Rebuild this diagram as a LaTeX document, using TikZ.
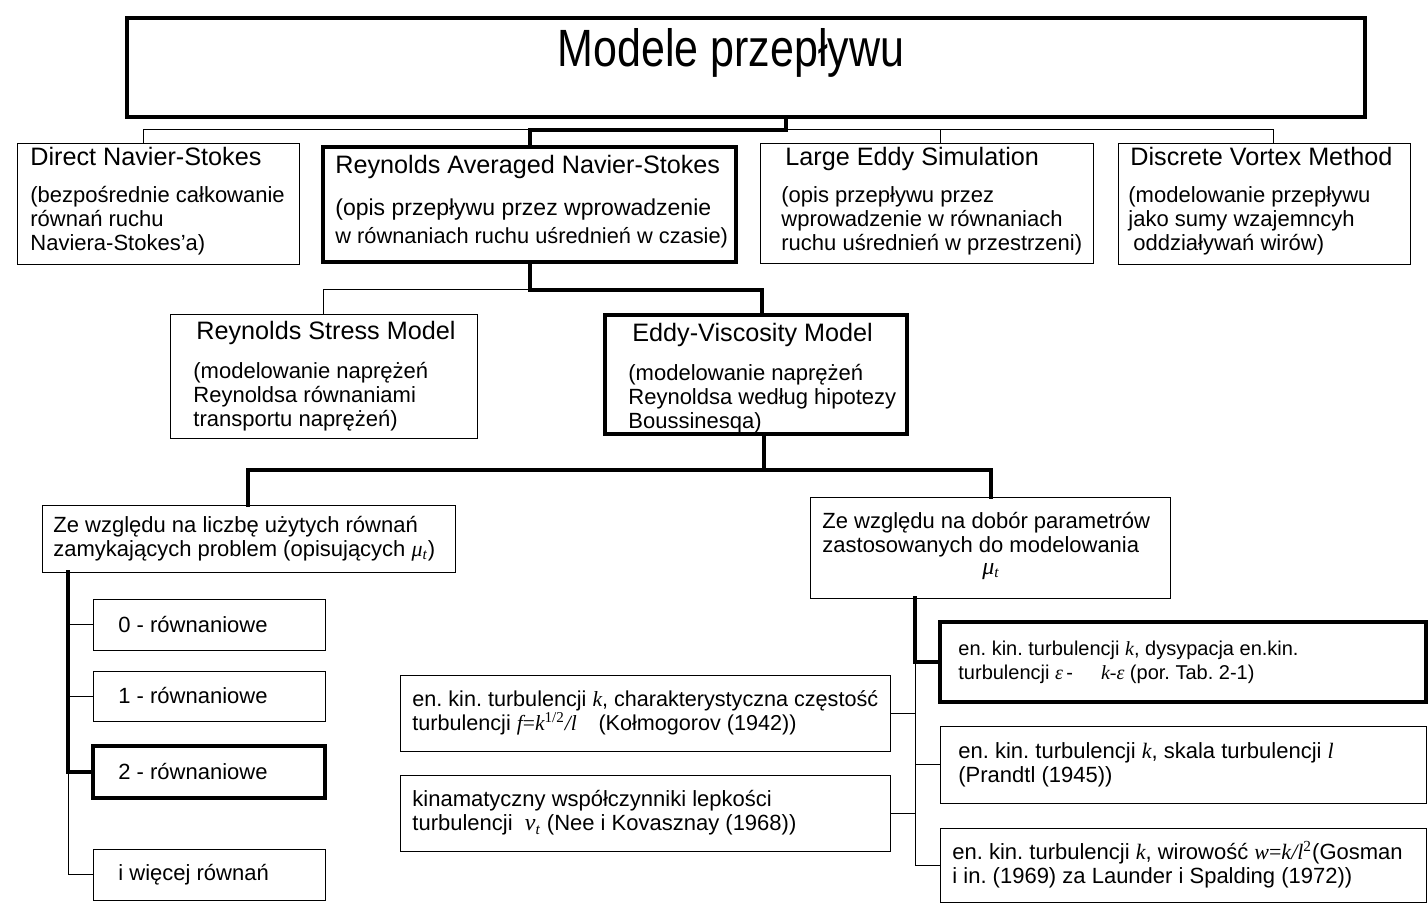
\documentclass[tikz,border=0pt]{standalone}
\usepackage{fontspec}
\usepackage{graphicx}
\setmainfont{Liberation Sans}
\newfontfamily\tms{Liberation Serif}
\newcommand\mv[1]{{\tms\itshape #1}}
\newcommand\hd{\fontsize{12.6}{15}\selectfont}
\frenchspacing
\tikzset{
  box/.style={draw, line width=0.5pt, anchor=north west, outer sep=0pt, inner sep=0pt},
  bbox/.style={box, line width=2pt},
  lbl/.style={anchor=west, align=left, inner sep=0pt, font=\fontsize{11}{12}\selectfont},
  twig/.style={line width=0.5pt},
  trunk/.style={line width=2pt, line cap=rect}
}
\begin{document}
\begin{tikzpicture}[x=0.5pt, y=-0.5pt]
    \useasboundingbox (0,0) rectangle (1428,903);

    % boxes
    \node [bbox, minimum width=619pt, minimum height=49.5pt] (title) at (127,18) {};
    \node [box, minimum width=141pt, minimum height=60.5pt] (dns) at (17,144) {};
    \node [bbox, minimum width=206.5pt, minimum height=57.5pt] (rans) at (323,147) {};
    \node [box, minimum width=166.5pt, minimum height=60pt] (les) at (760,144) {};
    \node [box, minimum width=146pt, minimum height=60.5pt] (dvm) at (1118,144) {};
    \node [box, minimum width=153.5pt, minimum height=61.5pt] (rsm) at (170,315) {};
    \node [bbox, minimum width=151pt, minimum height=59.5pt] (evm) at (605,315) {};
    \node [box, minimum width=206.5pt, minimum height=33.5pt] (lq) at (42,505) {};
    \node [box, minimum width=180pt, minimum height=50.5pt] (rq) at (810,497) {};
    \node [box, minimum width=116pt, minimum height=25.5pt] (e0) at (93,599) {};
    \node [box, minimum width=116pt, minimum height=25pt] (e1) at (93,671) {};
    \node [bbox, minimum width=116pt, minimum height=26pt] (e2) at (93,746) {};
    \node [box, minimum width=116pt, minimum height=25.5pt] (e3) at (93,849) {};
    \node [bbox, minimum width=243pt, minimum height=40pt] (ke) at (940,622) {};
    \node [box, minimum width=245pt, minimum height=38pt] (kol) at (400,675) {};
    \node [box, minimum width=245pt, minimum height=38pt] (kin) at (400,775) {};
    \node [box, minimum width=243pt, minimum height=38.5pt] (ska) at (940,726) {};
    \node [box, minimum width=243pt, minimum height=37pt] (wir) at (940,828) {};

    % texts
    \node [lbl, anchor=base, font=\fontsize{21.5}{24}\selectfont] (titleT) at (731,67) {\scalebox{1}[1.22]{Modele przepływu}};
    \node [lbl, yshift=1.5pt] (dnsT) at ([xshift=6.5pt]dns.west)
        {{\hd Direct Navier-Stokes}\\[6.5pt] (bezpośrednie całkowanie\\ równań ruchu\\ Naviera-Stokes’a)};
    \node [lbl, font=\fontsize{11.5}{14}\selectfont] (ransT) at ([xshift=6pt, yshift=1.5pt]rans.west)
        {{\hd Reynolds Averaged Navier-Stokes}\\[7pt] (opis przepływu przez wprowadzenie\\ {\fontsize{10.9}{14}\selectfont w równaniach ruchu uśrednień w czasie)}};
    \node [lbl, yshift=1.5pt] (lesT) at ([xshift=10.5pt]les.west)
        {\hspace*{2pt}{\hd Large Eddy Simulation}\\[6.5pt] (opis przepływu przez\\ wprowadzenie w równaniach\\ ruchu uśrednień w przestrzeni)};
    \node [lbl, yshift=1.5pt] (dvmT) at ([xshift=5pt]dvm.west)
        {\hspace*{1pt}{\hd Discrete Vortex Method}\\[6.5pt] (modelowanie przepływu\\ jako sumy wzajemncyh\\ \hspace*{2.5pt}oddziaływań wirów)};
    \node [lbl] (rsmT) at ([xshift=11.5pt]rsm.west)
        {\hspace*{1.5pt}{\hd Reynolds Stress Model}\\[7.5pt] (modelowanie naprężeń\\ Reynoldsa równaniami\\ transportu naprężeń)};
    \node [lbl, yshift=-2pt] (evmT) at ([xshift=11.5pt]evm.west)
        {\hspace*{2pt}{\hd Eddy-Viscosity Model}\\[7.5pt] (modelowanie naprężeń\\ Reynoldsa według hipotezy\\ Boussinesqa)};
    \node [lbl] (lqT) at ([xshift=5.5pt]lq.west)
        {Ze względu na liczbę użytych równań\\ zamykających problem (opisujących \mv{μ}\textsubscript{\mv{t}})};
    \node [lbl, yshift=1pt] (rqT) at ([xshift=6pt]rq.west)
        {Ze względu na dobór parametrów\\ zastosowanych do modelowania\\[-1pt] \hspace*{80pt}{\tms\itshape\large μ}\textsubscript{\mv{t}}};
    \node [lbl] (e0T) at ([xshift=12.5pt]e0.west) {0 - równaniowe};
    \node [lbl] (e1T) at ([xshift=12.5pt]e1.west) {1 - równaniowe};
    \node [lbl] (e2T) at ([xshift=12.5pt]e2.west) {2 - równaniowe};
    \node [lbl] (e3T) at ([xshift=12.5pt]e3.west) {i więcej równań};
    \node [lbl, font=\fontsize{10}{12}\selectfont] (keT) at ([xshift=9pt]ke.west)
        {en. kin. turbulencji \mv{k}, dysypacja en.kin.\\ turbulencji \mv{ε}\,-\hspace{14pt}\mv{k-ε} (por. Tab. 2-1)};
    \node [lbl, font=\fontsize{10.8}{12}\selectfont] (kolT) at ([xshift=6pt]kol.west)
        {en. kin. turbulencji \mv{k}, charakterystyczna częstość\\ turbulencji \mv{f}{\tms =}\mv{k}\textsuperscript{\tms 1/2}\mv{/l}\quad(Kołmogorov (1942))};
    \node [lbl] (kinT) at ([xshift=6pt]kin.west)
        {kinamatyczny współczynniki lepkości\\ turbulencji\ \ {\tms\itshape\large ν}\textsubscript{\mv{t}} (Nee i Kovasznay (1968))};
    \node [lbl] (skaT) at ([xshift=9pt]ska.west)
        {en. kin. turbulencji \mv{k}, skala turbulencji \mv{l}\\ (Prandtl (1945))};
    \node [lbl] (wirT) at ([xshift=6pt]wir.west)
        {en. kin. turbulencji \mv{k}, wirowość \mv{w}{\tms =}\mv{k/l}\textsuperscript{\tms 2}(Gosman\\ i in. (1969) za Launder i Spalding (1972))};

    % connectors, top level
    \coordinate (j1) at (786,130);
    \coordinate (d1) at (143,130);
    \coordinate (d3) at (940,130);
    \coordinate (d4) at (1273,130);
    \draw [twig] (d1 |- dns.north) -- (d1) -- (d4) -- (d4 |- dvm.north);
    \draw [twig] (d3) -- (d3 |- les.north);
    \draw [trunk] (j1 |- title.south) -- (j1) -| (rans.north);

    % connectors, RANS
    \coordinate (j2) at (530,290);
    \coordinate (r1) at (762,290);
    \draw [twig] (j2) -| (rsm.north);
    \draw [trunk] (j2 |- rans.south) -- (j2) -- (r1) -- (r1 |- evm.north);

    % connectors, eddy viscosity
    \coordinate (j3) at (764,470);
    \coordinate (q1) at (248,470);
    \coordinate (q2) at (991,470);
    \draw [trunk] (j3 |- evm.south) -- (j3);
    \draw [trunk] (q1 |- lq.north) -- (q1) -- (q2) -- (q2 |- rq.north);

    % left spine
    \coordinate (s1) at (68,772);
    \draw [twig] (s1) |- (e3.west);
    \draw [twig] (s1 |- e0.west) -- (e0.west);
    \draw [twig] (s1 |- e1.west) -- (e1.west);
    \draw [trunk] (s1 |- lq.south) -- (s1) -- (e2.west);

    % right spine
    \coordinate (s2) at (915,662);
    \draw [twig] (s2) -- (s2 |- wir.west);
    \draw [twig] (kol.east) -- (kol.east -| s2);
    \draw [twig] (kin.east) -- (kin.east -| s2);
    \draw [twig] (s2 |- ska.west) -- (ska.west);
    \draw [twig] (s2 |- wir.west) -- (wir.west);
    \draw [trunk] (s2 |- rq.south) -- (s2) -- (ke.west);
\end{tikzpicture}
\end{document}
